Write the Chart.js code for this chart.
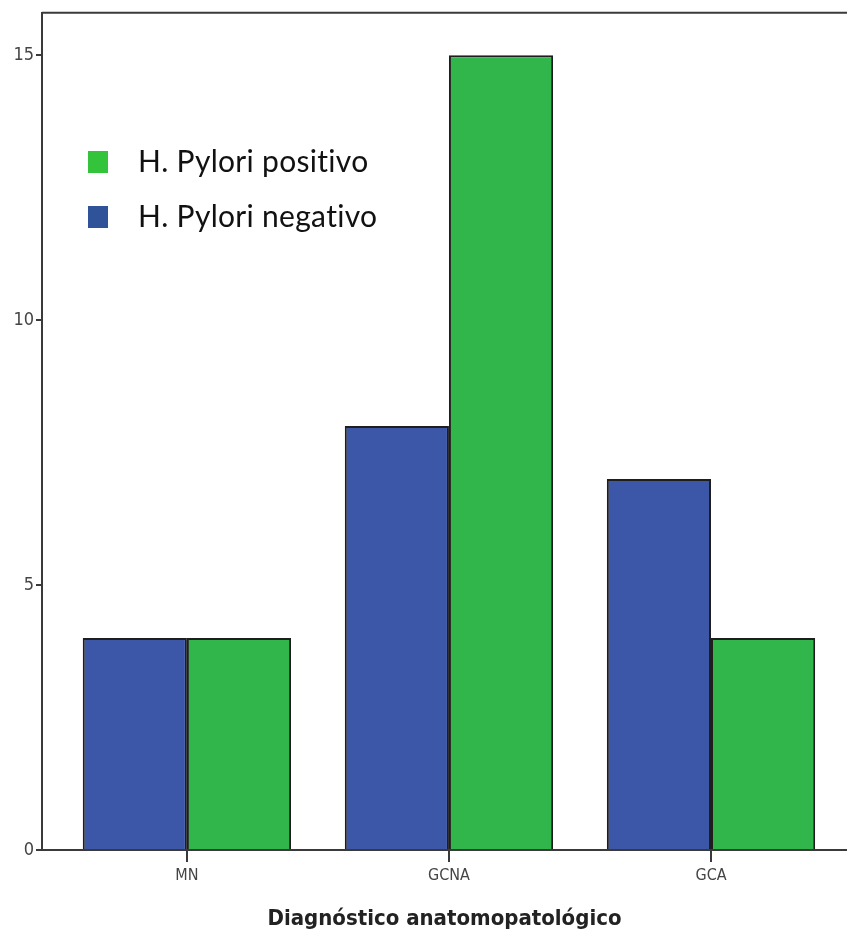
<!DOCTYPE html>
<html>
<head>
<meta charset="utf-8">
<script src="https://cdn.jsdelivr.net/npm/chart.js@4.4.1/dist/chart.umd.min.js"></script>
<style>
  html, body { margin: 0; padding: 0; background: #fff; }
  #wrap { width: 847px; height: 940px; }
</style>
</head>
<body>
<div id="wrap"><canvas id="chart" width="847" height="940"></canvas></div>
<script>
// categories and counts
const categories = ["MN", "GCNA", "GCA"];
const negativo = [4, 8, 7];
const positivo = [4, 15, 4];
const yTicks = [0, 5, 10, 15];
const legendLabels = ["H. Pylori positivo", "H. Pylori negativo"];
const xTitle = "Diagnóstico anatomopatológico";

const narrow = "'Liberation Sans Narrow', 'DejaVu Sans Condensed', Arial, sans-serif";

// draws the top frame line and the in-plot legend
const framePlugin = {
  id: "frame",
  afterDraw(chart) {
    const { ctx, chartArea } = chart;
    ctx.save();
    ctx.strokeStyle = "#3a3a3a";
    ctx.lineWidth = 2;
    ctx.beginPath();
    ctx.moveTo(chartArea.left, chartArea.top);
    ctx.lineTo(chart.width, chartArea.top);
    ctx.stroke();

    const items = [
      { text: legendLabels[0], color: "#33c43c", y: 162 },
      { text: legendLabels[1], color: "#2f5299", y: 217 }
    ];
    ctx.font = "30px Lato, 'Open Sans', sans-serif";
    ctx.letterSpacing = "0.3px";
    ctx.textBaseline = "middle";
    items.forEach((it) => {
      ctx.fillStyle = it.color;
      ctx.fillRect(88, it.y - 11, 20, 22);
      ctx.fillStyle = "#111";
      ctx.fillText(it.text, 138, it.y);
    });
    ctx.restore();
  }
};

const ctx = document.getElementById("chart").getContext("2d");
new Chart(ctx, {
  type: "bar",
  data: {
    datasets: [
      {
        label: "H. Pylori negativo",
        data: negativo.map((v, i) => ({ x: i, y: v })),
        backgroundColor: "#3d57a8",
        borderColor: "#1e1e1e",
        borderWidth: 2
      },
      {
        label: "H. Pylori positivo",
        data: positivo.map((v, i) => ({ x: i, y: v })),
        backgroundColor: "#30b64a",
        borderColor: "#1e1e1e",
        borderWidth: 2
      }
    ]
  },
  options: {
    responsive: false,
    animation: false,
    layout: { padding: { top: 9, right: 0, left: 0, bottom: 0 } },
    datasets: { bar: { categoryPercentage: 0.795, barPercentage: 1 } },
    plugins: { legend: { display: false }, tooltip: { enabled: false } },
    scales: {
      x: {
        type: "linear",
        offset: false,
        min: -0.553,
        max: 2.519,
        afterBuildTicks(scale) {
          scale.ticks = categories.map((c, i) => ({ value: i }));
        },
        afterFit(scale) { scale.height = 90; },
        ticks: {
          callback: (v) => categories[v],
          color: "#444",
          font: { family: narrow, size: 16 },
          padding: 4,
          maxRotation: 0
        },
        grid: { offset: false, drawOnChartArea: false, drawTicks: true, tickLength: 12, color: "#3a3a3a", lineWidth: 2 },
        border: { color: "#3a3a3a", width: 2 },
        title: {
          display: true,
          text: xTitle,
          color: "#222",
          font: { family: narrow, size: 22, weight: "bold" },
          padding: { top: 0, bottom: 8 }
        }
      },
      y: {
        min: 0,
        max: 15.8,
        afterBuildTicks(scale) {
          scale.ticks = yTicks.map((v) => ({ value: v }));
        },
        afterFit(scale) { scale.width = 42; },
        ticks: {
          color: "#444",
          font: { family: narrow, size: 18 },
          padding: 2
        },
        grid: { drawOnChartArea: false, drawTicks: true, tickLength: 6, color: "#3a3a3a", lineWidth: 2 },
        border: { color: "#3a3a3a", width: 2 }
      }
    }
  },
  plugins: [framePlugin]
});
</script>
</body>
</html>
